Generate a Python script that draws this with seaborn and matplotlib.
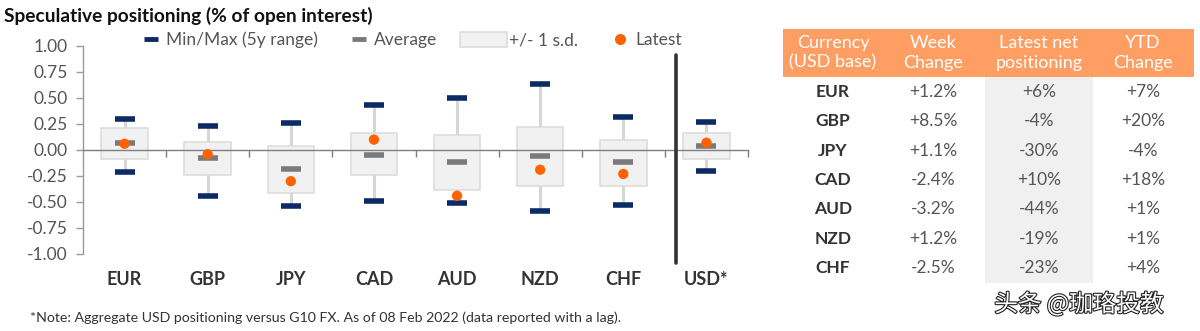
import matplotlib
matplotlib.use("Agg")
import matplotlib.pyplot as plt
import matplotlib.patheffects as pe
from matplotlib.lines import Line2D
from matplotlib.patches import Patch, Rectangle
import numpy as np
import pandas as pd
import seaborn as sns

# Positioning data (fraction of open interest)
categories = ["EUR", "GBP", "JPY", "CAD", "AUD", "NZD", "CHF", "USD*"]
max_5y = [0.30, 0.23, 0.26, 0.43, 0.50, 0.63, 0.32, 0.27]
min_5y = [-0.21, -0.44, -0.54, -0.49, -0.51, -0.59, -0.53, -0.20]
average = [0.07, -0.08, -0.18, -0.05, -0.12, -0.06, -0.12, 0.04]
sd_upper = [0.21, 0.08, 0.04, 0.16, 0.14, 0.22, 0.10, 0.16]
sd_lower = [-0.09, -0.24, -0.41, -0.24, -0.38, -0.35, -0.35, -0.09]
usd_latest = 0.07

# Summary table
table_currencies = ["EUR", "GBP", "JPY", "CAD", "AUD", "NZD", "CHF"]
week_change = [1.2, 8.5, 1.1, -2.4, -3.2, 1.2, -2.5]
latest_net = [6, -4, -30, 10, -44, -19, -23]
ytd_change = [7, 20, -4, 18, 1, 1, 4]
table_headers = ["Currency\n(USD base)", "Week\nChange", "Latest net\npositioning", "YTD\nChange"]

latest = [v / 100 for v in latest_net] + [usd_latest]

NAVY = "#0b2a66"
GREY_AVG = "#7a7a7a"
BOX_FILL = "#f1f1f1"
BOX_EDGE = "#dddddd"
ORANGE = "#ff6200"
TEXT = "#555555"
DARK = "#333333"

sns.set_theme(style="white")
plt.rcParams["font.family"] = ["Lato", "DejaVu Sans"]

df = pd.DataFrame({
    "category": categories,
    "max": max_5y, "min": min_5y, "avg": average,
    "hi": sd_upper, "lo": sd_lower, "latest": latest,
})
df["x"] = np.arange(len(df))

fig = plt.figure(figsize=(12, 3.31), dpi=100)
ax = fig.add_axes([83 / 1200, 1 - 254 / 331, (748 - 83) / 1200, (254 - 46) / 331])

# whiskers from min to max
ax.vlines(df["x"], df["min"], df["max"], color="#d6d6d6", lw=2.2, zorder=1)
# +/- 1 s.d. boxes
ax.bar(df["x"], df["hi"] - df["lo"], bottom=df["lo"], width=0.56,
       color=BOX_FILL, edgecolor=BOX_EDGE, linewidth=1.2, zorder=2)
# min / max caps and averages
cap = 0.12
ax.hlines(df["max"], df["x"] - cap, df["x"] + cap, color=NAVY, lw=4, zorder=3)
ax.hlines(df["min"], df["x"] - cap, df["x"] + cap, color=NAVY, lw=4, zorder=3)
ax.hlines(df["avg"], df["x"] - cap, df["x"] + cap, color=GREY_AVG, lw=4, zorder=3)
# latest positioning
sns.scatterplot(data=df, x="x", y="latest", ax=ax, color=ORANGE, s=55,
                edgecolor="none", zorder=4, legend=False)

ax.set_xlim(-0.5, len(df) - 0.5)
ax.set_ylim(-1.0, 1.0)
ax.set_yticks(np.arange(-1.0, 1.01, 0.25))
ax.set_yticklabels([f"{v:.2f}" for v in np.arange(-1.0, 1.01, 0.25)])
ax.set_xlabel("")
ax.set_ylabel("")

for s in ["top", "right"]:
    ax.spines[s].set_visible(False)
ax.spines["left"].set_color("#9a9a9a")
ax.spines["left"].set_linewidth(1)
ax.spines["bottom"].set_position(("data", 0))
ax.spines["bottom"].set_color("#7f7f7f")
ax.spines["bottom"].set_linewidth(1)

ax.tick_params(axis="y", which="major", direction="out", length=5, width=1,
               color="#9a9a9a", labelcolor=TEXT, labelsize=12.5, pad=6, left=True)
ax.set_xticks(df["x"])
ax.set_xticklabels(df["category"], fontweight="bold")
ax.tick_params(axis="x", which="major", length=0, labelcolor=DARK, labelsize=13, pad=87)
ax.set_xticks(np.arange(0.5, len(df) - 0.4, 1), minor=True)
ax.tick_params(axis="x", which="minor", direction="out", length=5, width=1,
               color="#7f7f7f", bottom=True)

# separator between G10 currencies and USD aggregate
ax.plot([6.63, 6.63], [-1.09, 0.91], color="#333333", lw=2.6, clip_on=False, zorder=5)

# title and legend
fig.text(4 / 1200, 1 - 16 / 331, "Speculative positioning (% of open interest)",
         fontsize=13.8, fontweight="bold", color="#111111", va="center", ha="left")

legend_y = 1 - 40 / 331
entries = [
    (Line2D([], [], color=NAVY, marker="_", ls="None", markersize=10, markeredgewidth=3.5),
     "Min/Max (5y range)", 143 / 1200, 0.9),
    (Line2D([], [], color=GREY_AVG, marker="_", ls="None", markersize=10, markeredgewidth=3.5),
     "Average", 351 / 1200, 0.9),
    (Patch(facecolor=BOX_FILL, edgecolor=BOX_EDGE, linewidth=1.2),
     "+/- 1 s.d.", 460 / 1200, 2.7),
    (Line2D([], [], color=ORANGE, marker="o", ls="None", markersize=8, markeredgewidth=0),
     "Latest", 612 / 1200, 0.9),
]
for handle, label, xpos, hl in entries:
    leg = fig.legend([handle], [label], loc="center left", bbox_to_anchor=(xpos, legend_y),
                     frameon=False, fontsize=12.5, handlelength=hl, handleheight=1.0,
                     handletextpad=0.15 if hl > 1 else 0.45, borderpad=0, borderaxespad=0,
                     labelcolor=TEXT)

# footnote
fig.text(30 / 1200, 1 - 318 / 331,
         "*Note: Aggregate USD positioning versus G10 FX. As of 08 Feb 2022 (data reported with a lag).",
         fontsize=10.2, color=DARK, va="center", ha="left")

# summary table
tx = fig.add_axes([0, 0, 1, 1])
tx.set_xlim(0, 1200)
tx.set_ylim(331, 0)
tx.axis("off")
tx.patch.set_alpha(0)

col_x = [833, 933, 1039, 1143]
tx.add_patch(Rectangle((783, 29), 411, 48, facecolor="#ff9e63", edgecolor="none"))
tx.add_patch(Rectangle((985, 77), 108, 206, facecolor="#f0f0f0", edgecolor="none"))
for cx, head in zip(col_x, table_headers):
    tx.text(cx, 53, head, ha="center", va="center", color="white", fontsize=13,
            linespacing=1.25)

row_y0, row_step = 92, 29.3
for i, cur in enumerate(table_currencies):
    y = row_y0 + i * row_step
    tx.text(col_x[0], y, cur, ha="center", va="center", color=DARK, fontsize=12.5,
            fontweight="bold")
    tx.text(col_x[1], y, f"{week_change[i]:+.1f}%", ha="center", va="center",
            color=TEXT, fontsize=12.5)
    tx.text(col_x[2], y, f"{latest_net[i]:+d}%", ha="center", va="center",
            color=TEXT, fontsize=12.5)
    tx.text(col_x[3], y, f"{ytd_change[i]:+d}%", ha="center", va="center",
            color=TEXT, fontsize=12.5)

tx.text(1079, 304, "头条 @珈珞投教", ha="center", va="center", fontsize=17,
        color="white", family=["Noto Sans CJK SC", "DejaVu Sans"],
        path_effects=[pe.Stroke(linewidth=1.6, foreground="#222222"), pe.Normal()])

fig.savefig("out.png", dpi=100)
